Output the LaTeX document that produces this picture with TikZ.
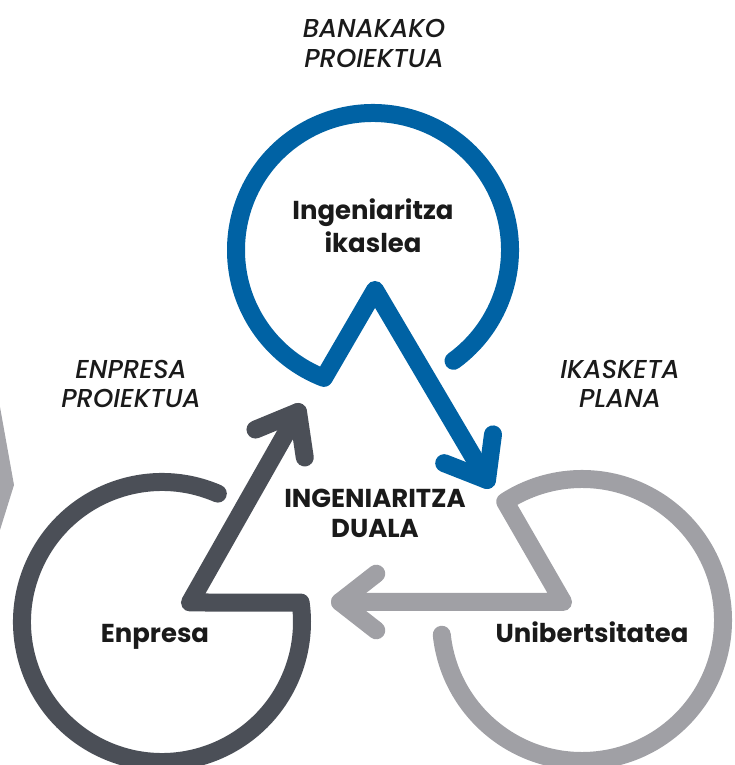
\documentclass[tikz,border=0pt]{standalone}
\usepackage{fontspec}
\setmainfont{Poppins}[BoldFont={Poppins Bold},ItalicFont={Poppins Medium Italic}]
\usetikzlibrary{calc}
\definecolor{cblue}{HTML}{0062A4}
\definecolor{cdark}{HTML}{4B4F57}
\definecolor{clight}{HTML}{A0A0A5}
\definecolor{ctext}{HTML}{1A1A1A}
\tikzset{
  ring/.style={line width=18bp, line cap=round, line join=round},
  barb/.style={line width=18bp, line cap=round, line join=round},
  title/.style={font=\fontsize{26}{30}\selectfont\bfseries, text=ctext, inner sep=0pt, anchor=base},
  lbl/.style={font=\fontsize{26}{30}\selectfont\itshape, text=ctext, inner sep=0pt, anchor=base},
}
\begin{document}
\begin{tikzpicture}[x=1bp,y=1bp]
\useasboundingbox (0,0) rectangle (735,765);
% partial shape at left edge
\fill[clight!95!white] (-2,358) -- (0,358) -- (14,280) -- (0,235) -- (-2,235) -- cycle;
% blue
\coordinate (Bc) at (373,515);
\coordinate (Bapex) at (375,475);
\coordinate (Btip) at (487,285);
\draw[ring, cblue] (Bc) ++(-54:137) arc[start angle=-54, end angle=249, radius=137] -- (Bapex) -- (Btip);
\draw[barb, cblue] ($(Btip)!46bp!38:(Bapex)$) -- (Btip) -- ($(Btip)!46bp!-38:(Bapex)$);
% dark
\coordinate (Dc) at (162,143);
\coordinate (Dcorner) at (190,162.5);
\coordinate (Dtip) at (298,353);
\draw[ring, cdark] (Dc) ++(66.5:140) arc[start angle=66.5, end angle=368, radius=140] -- (Dcorner) -- (Dtip);
\draw[barb, cdark] ($(Dtip)!46bp!38:(Dcorner)$) -- (Dtip) -- ($(Dtip)!46bp!-38:(Dcorner)$);
% light
\coordinate (Uc) at (582,145);
\coordinate (Ucorner) at (563,163);
\coordinate (Utip) at (340,163);
\draw[ring, clight] (Uc) ++(186:141) arc[start angle=186, end angle=483, radius=141] -- (Ucorner) -- (Utip);
\draw[barb, clight] ($(Utip)!46bp!38:(Ucorner)$) -- (Utip) -- ($(Utip)!46bp!-38:(Ucorner)$);
% titles
\node[title] (ing1) at (373,545) {Ingeniaritza};
\node[title] (ing2) at (373,512) {ikaslea};
\node[title] (dua1) at (375,257) {INGENIARITZA};
\node[title] (dua2) at (375,227) {DUALA};
\node[title] (enp) at (155,122) {Enpresa};
\node[title] (uni) at (592,122) {Unibertsitatea};
% labels
\node[lbl] (ban1) at (374,727) {BANAKAKO};
\node[lbl] (ban2) at (374,697) {PROIEKTUA};
\node[lbl] (ep1) at (131,386) {ENPRESA};
\node[lbl] (ep2) at (131,357) {PROIEKTUA};
\node[lbl] (ik1) at (620,386) {IKASKETA};
\node[lbl] (ik2) at (620,357) {PLANA};
\end{tikzpicture}
\end{document}
